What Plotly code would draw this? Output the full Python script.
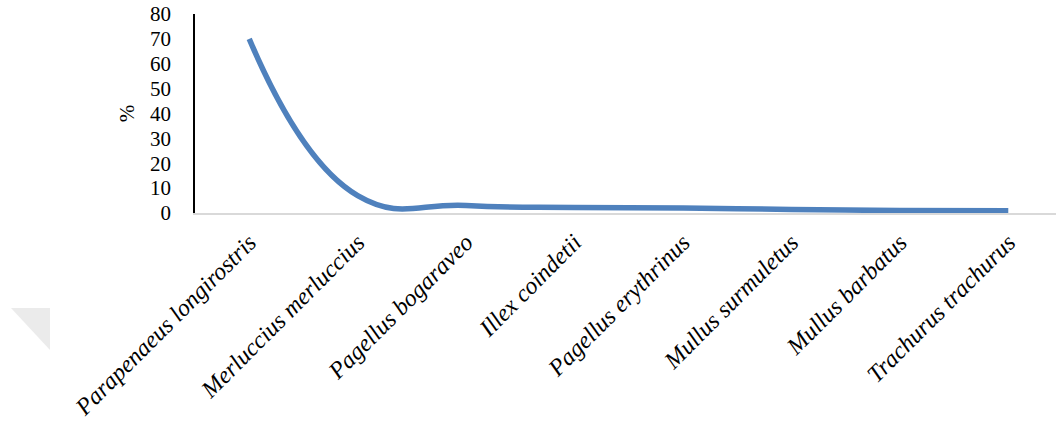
import plotly.graph_objects as go

categories = ["Parapenaeus longirostris", "Merluccius merluccius", "Pagellus bogaraveo",
              "Illex coindetii", "Pagellus erythrinus", "Mullus surmuletus",
              "Mullus barbatus", "Trachurus trachurus"]
values = [70.0, 7.0, 3.0, 2.2, 2.0, 1.4, 1.0, 0.9]
y_ticks = [0, 10, 20, 30, 40, 50, 60, 70, 80]

W, H = 1056, 425
L, R, T, B = 195, 0, 14, 212

fig = go.Figure()
fig.add_trace(go.Scatter(
    x=list(range(len(categories))), y=values, mode="lines",
    line=dict(color="#4f81bd", width=5.5, shape="spline", smoothing=1.3),
    showlegend=False, hoverinfo="skip"))

# decorative light-gray triangle at left
def px(x): return (x - L) / (W - L - R)
def py(y): return (H - B - y) / (H - T - B)
fig.add_shape(type="path", xref="paper", yref="paper",
              path=f"M {px(11)} {py(308)} L {px(50)} {py(308)} L {px(50)} {py(350)} Z",
              fillcolor="#ebebeb", line=dict(width=0))

fig.update_layout(
    width=W, height=H, margin=dict(l=L, r=R, t=T, b=B),
    plot_bgcolor="white", paper_bgcolor="white",
    font=dict(family="Liberation Serif", color="black"),
    xaxis=dict(tickmode="array", tickvals=list(range(len(categories))),
               ticktext=[f"<i>{c}</i>" for c in categories],
               range=[-0.5, 7.44], tickangle=-45, tickfont=dict(size=24),
               showgrid=False, zeroline=False, showline=True, automargin=False,
               linecolor="#d9d9d9", linewidth=1.5, ticks="", ticklabelstandoff=4),
    yaxis=dict(range=[0, 80], tickvals=y_ticks, tickfont=dict(size=21),
               showgrid=False, zeroline=False, showline=True, automargin=False,
               linecolor="black", linewidth=1.5, ticks="", ticklabelstandoff=18,
               title=dict(text="%", font=dict(size=21), standoff=10)),
)
fig.write_html("out.html")
